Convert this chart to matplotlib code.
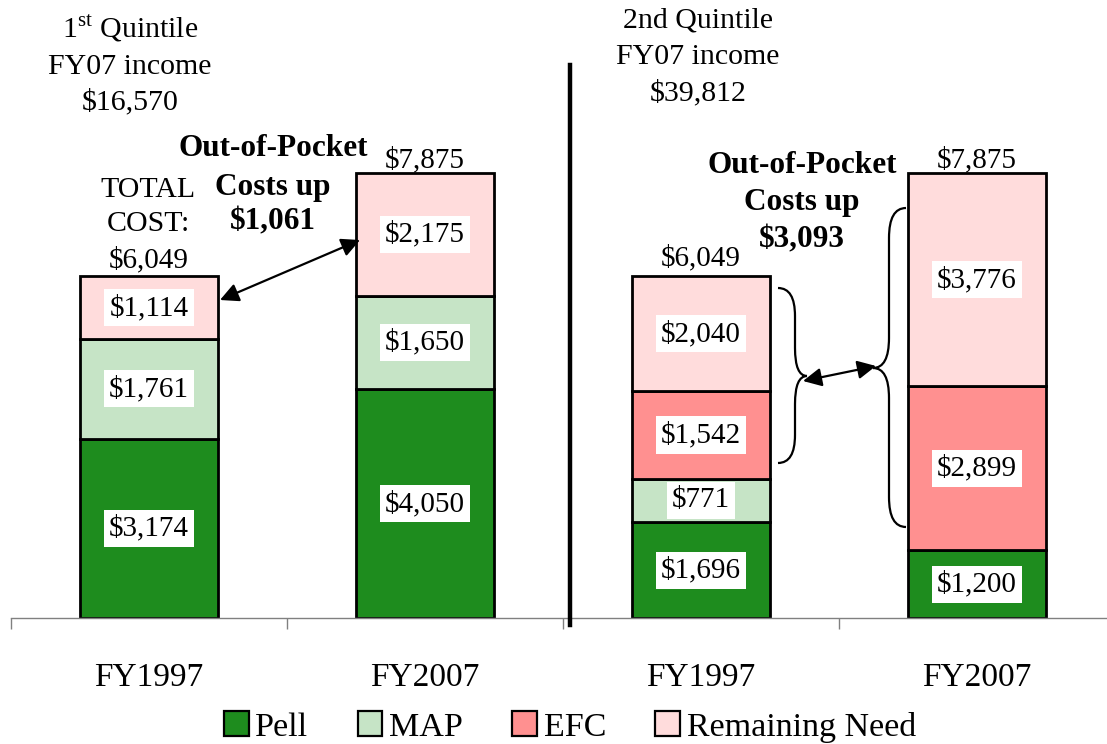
import matplotlib
matplotlib.use("Agg")
import matplotlib.pyplot as plt
from matplotlib.patches import Patch, PathPatch
from matplotlib.path import Path
import numpy as np

plt.rcParams['font.family'] = ['Liberation Serif', 'DejaVu Serif']
plt.rcParams['mathtext.fontset'] = 'custom'
plt.rcParams['mathtext.rm'] = 'Liberation Serif'

categories = ["FY1997", "FY2007", "FY1997", "FY2007"]
pell = [3174, 4050, 1696, 1200]
map_ = [1761, 1650, 771, 0]
efc = [0, 0, 1542, 2899]
remaining = [1114, 2175, 2040, 3776]
totals = ["$6,049", "$7,875", "$6,049", "$7,875"]
series_names = ["Pell", "MAP", "EFC", "Remaining Need"]
colors = ["#1e8c1e", "#c6e4c6", "#ff9090", "#ffdcdc"]

W, H = 1107, 744
fig = plt.figure(figsize=(W / 100, H / 100), dpi=100)
ax = fig.add_axes([11 / W, (H - 618) / H, 1 - 11 / W, 618 / H])

# pixel -> data helpers (for annotation placement)
PX_X0, PX_DX = 149, 276
PX_Y0, PX_DY = 618, 0.0565
def dx(px):
    return (px - PX_X0) / PX_DX
def dy(py):
    return (PX_Y0 - py) / PX_DY

x = np.arange(len(categories))
series = [pell, map_, efc, remaining]
bottom = np.zeros(len(categories))
for vals, col in zip(series, colors):
    vals = np.array(vals, dtype=float)
    ax.bar(x, vals, width=0.5, bottom=bottom, color=col, edgecolor='black',
           linewidth=2, zorder=2)
    for xi, v, b in zip(x, vals, bottom):
        if v > 0:
            ax.text(xi, b + v / 2, "\\$" + f"{int(v):,}", ha='center', va='center',
                    fontsize=21, zorder=4,
                    bbox=dict(boxstyle='square,pad=0.18', fc='white', ec='none'))
    bottom += vals

ax.set_xlim(-0.5, (W - PX_X0) / PX_DX)
ax.set_ylim(0, PX_Y0 / PX_DY)

# total labels
tot_off = [287, 231, 323, 231]
for xi, t, b, o in zip(x, totals, bottom, tot_off):
    ax.text(xi, b + o, t.replace("$", "\\$"), ha='center', va='center', fontsize=21, zorder=5)

# axes styling
for s in ['top', 'right', 'left']:
    ax.spines[s].set_visible(False)
ax.spines['bottom'].set_color('#808080')
ax.spines['bottom'].set_linewidth(1)
ax.set_yticks([])
ax.set_xticks(x)
ax.set_xticklabels(categories, fontsize=24)
ax.tick_params(axis='x', which='major', length=0, pad=32)
ax.set_xticks([-0.5, 0.5, 1.5, 2.5], minor=True)
ax.tick_params(axis='x', which='minor', length=8, width=1, color='#808080', direction='out')

# separator line
ax.plot([dx(570), dx(570)], [dy(65), dy(625)], color='black', lw=3.2, clip_on=False, zorder=6)

# headers
ax.text(dx(130), dy(28), "1$^{\\mathrm{st}}$ Quintile", ha='center', va='center', fontsize=21.5)
ax.text(dx(130), dy(67), "FY07 income", ha='center', va='center', fontsize=21.5)
ax.text(dx(130), dy(102), "\\$16,570", ha='center', va='center', fontsize=21.5)

ax.text(dx(698), dy(20), "2nd Quintile", ha='center', va='center', fontsize=21.5)
ax.text(dx(698), dy(57), "FY07 income", ha='center', va='center', fontsize=21.5)
ax.text(dx(698), dy(93), "\\$39,812", ha='center', va='center', fontsize=21.5)

ax.text(dx(148), dy(190), "TOTAL", ha='center', va='center', fontsize=21.5)
ax.text(dx(148), dy(224), "COST:", ha='center', va='center', fontsize=21.5)

for cx, lines, ys in [(273, ["Out-of-Pocket", "Costs up", "\\$1,061"], [148, 187, 222]),
                      (802, ["Out-of-Pocket", "Costs up", "\\$3,093"], [165, 202, 240])]:
    for ln, yy in zip(lines, ys):
        ax.text(dx(cx), dy(yy), ln, ha='center', va='center', fontsize=22.5,
                fontweight='bold', zorder=5)

# arrows
for (x1, y1, x2, y2) in [(220, 300, 360, 240), (803, 381, 876, 366)]:
    ax.annotate("", xy=(dx(x2), dy(y2)), xytext=(dx(x1), dy(y1)),
                arrowprops=dict(arrowstyle='<|-|>', color='black', lw=1.6,
                                mutation_scale=28, shrinkA=0, shrinkB=0), zorder=6)

# braces
def brace(x_end, x_mid, x_tip, y_top, y_bot, y_mid, r):
    codes = [Path.MOVETO, Path.CURVE3, Path.CURVE3,
             Path.LINETO, Path.CURVE3, Path.CURVE3,
             Path.MOVETO, Path.CURVE3, Path.CURVE3,
             Path.LINETO, Path.CURVE3, Path.CURVE3]
    verts = [(x_end, y_top), (x_mid, y_top), (x_mid, y_top - r),
             (x_mid, y_mid + r), (x_mid, y_mid), (x_tip, y_mid),
             (x_tip, y_mid), (x_mid, y_mid), (x_mid, y_mid - r),
             (x_mid, y_bot + r), (x_mid, y_bot), (x_end, y_bot)]
    p = PathPatch(Path(verts, codes), fc='none', ec='black', lw=1.6, zorder=5)
    ax.add_patch(p)

brace(dx(778), dx(795), dx(807), dy(288), dy(463), dy(376), 28 / PX_DY)
brace(dx(906), dx(889), dx(873), dy(208), dy(527), dy(368), 30 / PX_DY)

# legend
handles = [Patch(facecolor=c, edgecolor='black', linewidth=1.6) for c in colors]
fig.legend(handles, series_names, loc='center', bbox_to_anchor=(570 / W, (H - 727) / H),
           ncol=4, frameon=False, fontsize=24.5, handlelength=0.72, handleheight=0.72,
           handletextpad=0.2, columnspacing=1.45, borderaxespad=0, borderpad=0)

fig.savefig("out.png", dpi=100)
